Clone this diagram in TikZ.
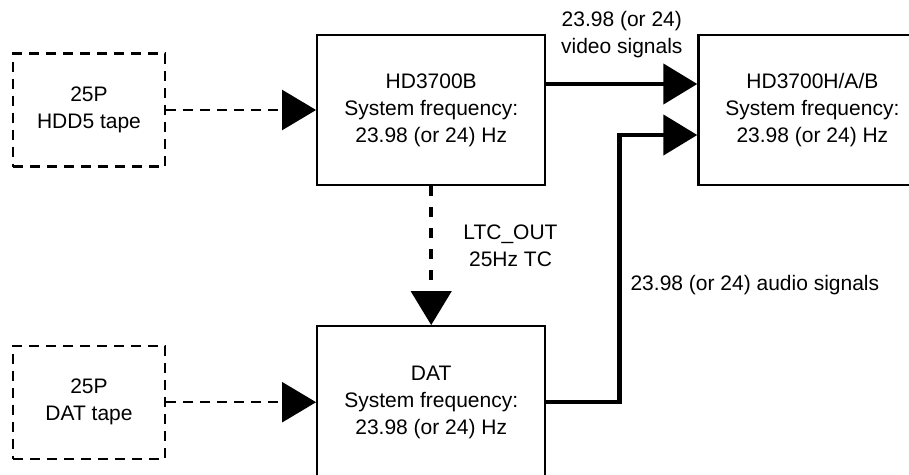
\documentclass[tikz,border=0pt]{standalone}
\usepackage{fontspec}
\setmainfont{Liberation Sans}
\usetikzlibrary{positioning,arrows.meta}

\begin{document}
\begin{tikzpicture}[font=\fontsize{21}{27}\selectfont,>={Triangle[length=34pt,width=40pt]},node distance=139pt and 150pt]
\tikzset{dev/.style={draw,line width=2.2pt,align=center,minimum width=228pt,minimum height=150pt,inner sep=0pt},
         tape/.style={draw,line width=2.2pt,dash pattern=on 10pt off 7pt,align=center,minimum width=152pt,minimum height=113pt,inner sep=0pt},
         feed/.style={->,line width=2.2pt,dash pattern=on 10pt off 7pt},
         sig/.style={->,line width=4.5pt},
         tc/.style={->,line width=4.5pt,dash pattern=on 10pt off 11pt},
         lbl/.style={align=center,inner sep=0pt}}
\useasboundingbox (0,0) rectangle (909pt,-474pt);
\node[tape] (hddtape) at (89pt,-110pt) {25P\\HDD5 tape};
\node[dev,right=150pt of hddtape] (hdb) {HD3700B\\System frequency:\\23.98 (or 24) Hz};
\node[dev,right=151pt of hdb] (rec) {HD3700H/A/B\\System frequency:\\23.98 (or 24) Hz};
\node[dev,below=of hdb,minimum height=152pt] (dat) {DAT\\System frequency:\\23.98 (or 24) Hz};
\node[tape,left=150pt of dat] (dattape) {25P\\DAT tape};
\draw[feed] (hddtape) -- (hdb);
\draw[feed] (dattape) -- (dat);
\draw[tc] (hdb) -- (dat) node[lbl,midway,right=30pt,yshift=10pt] {LTC\_OUT\\25Hz TC};
\draw[sig] ([yshift=26pt]hdb.east) -- ([yshift=26pt]rec.west) node[lbl,midway,above=24pt] {23.98 (or 24)\\video signals};
\draw[sig] (dat.east) -- ++(73pt,0) |- ([yshift=-25pt]rec.west) node[lbl,pos=0.22,right=9pt] {23.98 (or 24) audio signals};
\end{tikzpicture}
\end{document}
